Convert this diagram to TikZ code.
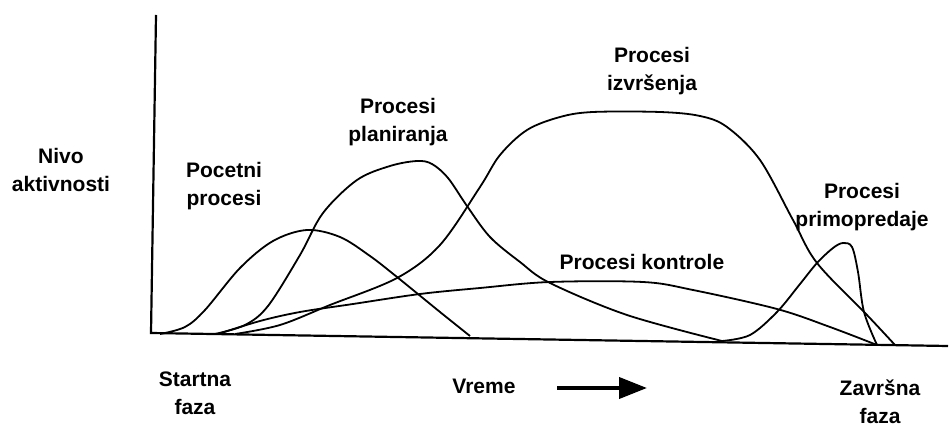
\documentclass[tikz,border=0pt]{standalone}
\usepackage{fontspec}
\setmainfont{Liberation Sans}
\usetikzlibrary{arrows.meta}
\begin{document}
\begin{tikzpicture}[x=1pt,y=-1pt,
  lbl/.style={font=\bfseries\fontsize{21}{28}\selectfont,align=center,inner sep=0pt},
  curve/.style={line width=1.8pt,smooth,tension=0.55},
  axis/.style={line width=2.2pt}]
\useasboundingbox (0,0) rectangle (951,427);
% axes
\coordinate (top) at (156,15);
\coordinate (origin) at (151,333);
\coordinate (xend) at (948,346);
\draw[axis] (top) -- (origin) -- (xend);
% curves
\draw[curve] plot coordinates {(160,334) (185,327) (205,310) (240,268) (273,241) (307,230) (340,237) (370,256) (397,277) (440,312) (470,336)};
\draw[curve] plot coordinates {(215,334) (245,325) (268,306) (300,255) (323,213) (357,180) (390,166) (417,161) (432,164) (448,178) (467,206) (490,237) (520,262) (550,283) (627,315) (722,341)};
\draw[curve] plot coordinates {(235,334) (280,325) (330,305) (397,278) (440,245) (480,187) (500,155) (527,130) (560,117) (593,112) (660,112) (700,116) (727,127) (760,160) (793,220) (817,263) (867,315) (895,345)};
\draw[curve] plot coordinates {(722,341) (750,335) (777,312) (800,284) (817,263) (833,248) (843,243) (852,247) (858,272) (864,312) (877,345)};
\draw[curve] plot coordinates {(218,334) (260,321) (300,312) (353,304) (420,294) (480,288) (550,282) (643,282) (693,290) (777,309) (830,327) (877,345)};
% labels
\node[lbl] (nivo) at (61,170) {Nivo\\aktivnosti};
\node[lbl] (pocetni) at (224,186) {Pocetni\\procesi};
\node[lbl] (planiranja) at (398,122) {Procesi\\planiranja};
\node[lbl] (izvrsenja) at (652,71) {Procesi\\izvršenja};
\node[lbl] (kontrole) at (642,262) {Procesi kontrole};
\node[lbl] (primopredaje) at (862,207) {Procesi\\primopredaje};
\node[lbl] (startna) at (195,393) {Startna\\faza};
\node[lbl] (vreme) at (484,386) {Vreme};
\node[lbl] (zavrsna) at (880,402) {Završna\\faza};
% time arrow
\coordinate (arrs) at (557,388);
\coordinate (arre) at (647,388);
\draw[line width=4pt,-{Triangle[length=28pt,width=21pt]}] (arrs) -- (arre);
\end{tikzpicture}
\end{document}
